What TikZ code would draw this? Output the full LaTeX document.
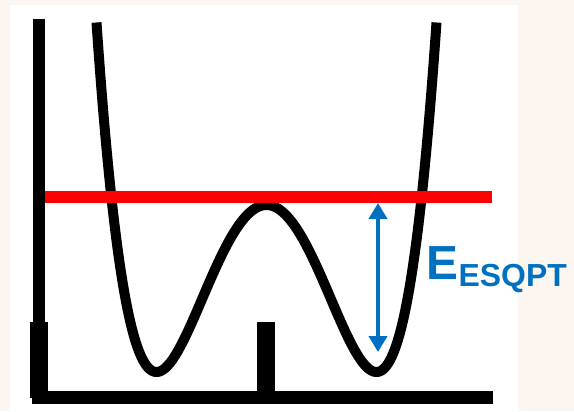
\documentclass[tikz,border=0pt]{standalone}
\usepackage{fontspec}
\setmainfont{Liberation Sans}
\usetikzlibrary{arrows.meta}
\definecolor{peach}{HTML}{FDF5EF}
\definecolor{esqblue}{HTML}{0070C0}
\tikzset{
  axisbar/.style={fill=black, draw=none},
  wellcurve/.style={line width=10bp, black, line join=round},
  levelline/.style={fill=red, draw=none},
  gaparrow/.style={esqblue, line width=4bp, {Triangle[width=18bp,length=16bp]}-{Triangle[width=18bp,length=16bp]}},
  gaplabel/.style={esqblue, font=\bfseries, inner sep=0pt, anchor=base west}
}
\begin{document}
\begin{tikzpicture}[x=1bp, y=-1bp]
\useasboundingbox (0,0) rectangle (574,411);
\fill[peach] (0,0) rectangle (574,411);
\fill[white] (10,5) rectangle (518,411);
% axes
\fill[axisbar] (33,19) rectangle (45,398);
\fill[axisbar] (30,322) rectangle (47.5,398);
\fill[axisbar] (32,391) rectangle (493,404);
\fill[axisbar] (257,322) rectangle (275,391);
% double well
\draw[wellcurve] plot[domain=-170:170, samples=241, smooth]
  ({266.5+\x}, {372 - 167*((\x/110)^2-1)^2 - 6*((\x/110)^2-1)^2*(\x/110)^2});
% ESQPT level
\fill[levelline] (45,190.5) rectangle (492,202.7);
% arrow
\coordinate (top) at (378,203);
\coordinate (bot) at (378,352);
\draw[gaparrow] (top) -- (bot);
\node[gaplabel] (lbl) at (426.6,279)
  {\fontsize{48}{48}\selectfont E\raisebox{-7bp}{\fontsize{32}{32}\selectfont ESQPT}};
\end{tikzpicture}
\end{document}
